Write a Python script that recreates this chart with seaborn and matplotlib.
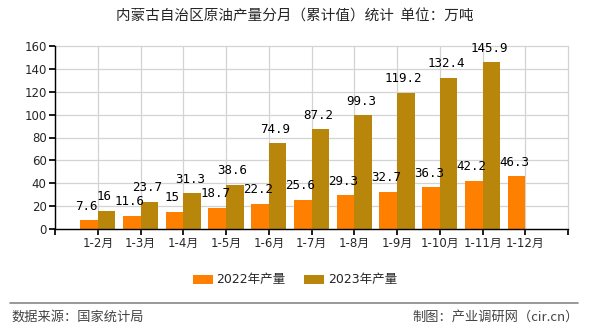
import numpy as np
import pandas as pd
import matplotlib
matplotlib.use("Agg")
import matplotlib.pyplot as plt
import seaborn as sns
from matplotlib.patches import Patch

categories = ["1-2月", "1-3月", "1-4月", "1-5月", "1-6月", "1-7月", "1-8月",
              "1-9月", "1-10月", "1-11月", "1-12月"]
values_2022 = [7.6, 11.6, 15, 18.7, 22.2, 25.6, 29.3, 32.7, 36.3, 42.2, 46.3]
values_2023 = [16, 23.7, 31.3, 38.6, 74.9, 87.2, 99.3, 119.2, 132.4, 145.9, np.nan]
series_names = ["2022年产量", "2023年产量"]
colors = ["#FF8000", "#B8860B"]

sns.set_theme(style="white")
plt.rcParams['font.family'] = ['DejaVu Sans', 'Noto Sans CJK SC']

df = pd.DataFrame({
    "cat": categories * 2,
    "val": values_2022 + values_2023,
    "series": [series_names[0]] * len(categories) + [series_names[1]] * len(categories),
})

fig = plt.figure(figsize=(5.9, 3.3), dpi=100)
ax = fig.add_axes([55/590, 1-229/330, (568-55)/590, (229-46)/330])

sns.barplot(data=df, x="cat", y="val", hue="series", palette=colors,
            width=0.82, ax=ax, legend=False, saturation=1, linewidth=0,
            edgecolor="none")

ax.set_xlim(-1, len(categories))
ax.set_ylim(0, 160)
ax.set_yticks(range(0, 161, 20))
ax.set_xticks(range(-1, len(categories) + 1))
ax.set_xticklabels([""] + categories + [""])
ax.set_xlabel("")
ax.set_ylabel("")
ax.grid(True, color="#D3D3D3", linewidth=0.9)
ax.set_axisbelow(True)
for gl in ax.get_xgridlines() + ax.get_ygridlines():
    gl.set_clip_on(False)
for s in ["top", "right"]:
    ax.spines[s].set_visible(False)
ax.spines["left"].set_color("black")
ax.spines["bottom"].set_color("black")
ax.spines["left"].set_linewidth(1)
ax.spines["bottom"].set_linewidth(1)
ax.tick_params(axis="both", length=4, color="black", labelsize=8.5, pad=2, direction="out",
               bottom=True, left=True)

# value labels
for cont, vals in zip(ax.containers, [values_2022, values_2023]):
    for rect, v in zip(cont, vals):
        if v is None or (isinstance(v, float) and np.isnan(v)):
            continue
        ax.text(rect.get_x() + rect.get_width() / 2 - 0.05, rect.get_height() + 6.5,
                f"{v:g}", ha="center", va="bottom", fontsize=9,
                family="DejaVu Sans Mono", color="black")

fig.text(0.5, 1-17/330, "内蒙古自治区原油产量分月（累计值）统计  单位：万吨",
         ha="center", va="center", fontsize=10.5, family=["Noto Sans CJK SC"])

handles = [Patch(facecolor=c, edgecolor="none") for c in colors]
fig.legend(handles, series_names, loc="center", bbox_to_anchor=(0.5, 1-280/330),
           ncol=2, frameon=False, handlelength=1.6, handleheight=0.7,
           columnspacing=1.5, handletextpad=0.3,
           prop={"family": ["DejaVu Sans", "Noto Sans CJK SC"], "size": 9})

fig.add_artist(plt.Line2D([10/590, 578/590], [1-303/330, 1-303/330],
                          color="#888888", linewidth=1.2))
fig.text(11/590, 1-317/330, "数据来源：国家统计局", ha="left", va="center",
         fontsize=9.5, color="#444444", family=["Noto Sans CJK SC"])
fig.text(579/590, 1-317/330, "制图：产业调研网（cir.cn）", ha="right", va="center",
         fontsize=9.5, color="#444444", family=["Noto Sans CJK SC"])

fig.savefig("out.png", dpi=100)
